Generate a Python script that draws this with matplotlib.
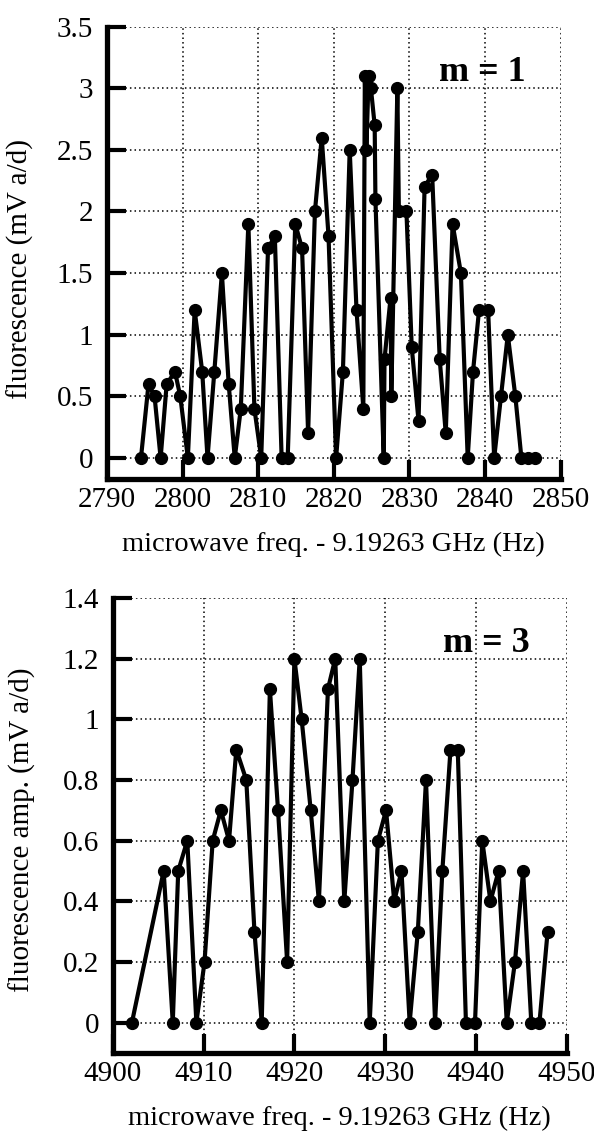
import matplotlib
matplotlib.use("Agg")
import matplotlib.pyplot as plt

plt.rcParams['font.family'] = ['Liberation Serif', 'DejaVu Serif']

# m = 1 scan
freq_m1 = [2794.5, 2795.5, 2796.3, 2797.1, 2797.9, 2799.0, 2799.7, 2800.7, 2801.6, 2802.6,
           2803.3, 2804.2, 2805.2, 2806.1, 2806.9, 2807.7, 2808.7, 2809.5, 2810.4, 2811.3,
           2812.2, 2813.1, 2813.9, 2814.9, 2815.8, 2816.6, 2817.5, 2818.4, 2819.3, 2820.3,
           2821.2, 2822.1, 2823.0, 2823.9, 2824.1, 2824.3, 2824.6, 2824.9, 2825.4, 2825.5,
           2826.6, 2826.7, 2827.5, 2827.6, 2828.4, 2828.6, 2829.6, 2830.3, 2831.2, 2832.0,
           2833.0, 2834.0, 2834.8, 2835.7, 2836.8, 2837.7, 2838.4, 2839.2, 2840.4, 2841.2,
           2842.1, 2843.0, 2844.0, 2844.8, 2845.7, 2846.6]
fluo_m1 = [0, 0.6, 0.5, 0, 0.6, 0.7, 0.5, 0, 1.2, 0.7,
           0, 0.7, 1.5, 0.6, 0, 0.4, 1.9, 0.4, 0, 1.7,
           1.8, 0, 0, 1.9, 1.7, 0.2, 2.0, 2.6, 1.8, 0,
           0.7, 2.5, 1.2, 0.4, 3.1, 2.5, 3.1, 3.0, 2.7, 2.1,
           0, 0.8, 1.3, 0.5, 3.0, 2.0, 2.0, 0.9, 0.3, 2.2,
           2.3, 0.8, 0.2, 1.9, 1.5, 0, 0.7, 1.2, 1.2, 0,
           0.5, 1.0, 0.5, 0, 0, 0]

# m = 3 scan
freq_m3 = [4902.1, 4905.6, 4906.6, 4907.2, 4908.2, 4909.2, 4910.1, 4911.0, 4911.9, 4912.8,
           4913.6, 4914.7, 4915.6, 4916.4, 4917.3, 4918.2, 4919.2, 4920.0, 4920.8, 4921.8,
           4922.7, 4923.7, 4924.5, 4925.5, 4926.4, 4927.2, 4928.3, 4929.2, 4930.1, 4931.0,
           4931.8, 4932.7, 4933.6, 4934.5, 4935.5, 4936.3, 4937.2, 4938.0, 4938.9, 4939.9,
           4940.7, 4941.6, 4942.5, 4943.4, 4944.3, 4945.2, 4946.1, 4947.0, 4947.9]
fluo_m3 = [0, 0.5, 0, 0.5, 0.6, 0, 0.2, 0.6, 0.7, 0.6,
           0.9, 0.8, 0.3, 0, 1.1, 0.7, 0.2, 1.2, 1.0, 0.7,
           0.4, 1.1, 1.2, 0.4, 0.8, 1.2, 0, 0.6, 0.7, 0.4,
           0.5, 0, 0.3, 0.8, 0, 0.5, 0.9, 0.9, 0, 0,
           0.6, 0.4, 0.5, 0, 0.2, 0.5, 0, 0, 0.3]

xticks_m1 = [2790, 2800, 2810, 2820, 2830, 2840, 2850]
yticks_m1 = [0, 0.5, 1, 1.5, 2, 2.5, 3, 3.5]
ylabels_m1 = ["0", "0.5", "1", "1.5", "2", "2.5", "3", "3.5"]
xticks_m3 = [4900, 4910, 4920, 4930, 4940, 4950]
yticks_m3 = [0, 0.2, 0.4, 0.6, 0.8, 1.0, 1.2, 1.4]
ylabels_m3 = ["0", "0.2", "0.4", "0.6", "0.8", "1", "1.2", "1.4"]

xlabel = "microwave freq. - 9.19263 GHz (Hz)"

fig = plt.figure(figsize=(5.94, 11.31), dpi=100)
ax1 = fig.add_axes([0.180, 0.5765, 0.764, 0.400])
ax2 = fig.add_axes([0.190, 0.069, 0.764, 0.4023])


def style(ax, xs, ys, xt, yt, ylab, xlim, ylim, ytext, ylab_xy, tag, tagpos):
    ax.plot(xs, ys, color="black", lw=3.0, marker="o",
            markersize=8.5, clip_on=False, zorder=3)
    ax.set_xlim(*xlim)
    ax.set_ylim(*ylim)
    ax.set_xticks(xt)
    ax.set_xticklabels([str(v) for v in xt])
    ax.set_yticks(yt)
    ax.set_yticklabels(ylab)
    ax.grid(True, color="black", linestyle=(0, (1, 2)), linewidth=1.1)
    for s in ["top", "right"]:
        ax.spines[s].set_visible(False)
    for s in ["left", "bottom"]:
        ax.spines[s].set_linewidth(3.8)
    ax.tick_params(axis="both", direction="in", length=14, width=3.0,
                   labelsize=21, color="black")
    ax.tick_params(axis="y", pad=10)
    ax.tick_params(axis="x", pad=6)
    ax.set_xlabel(xlabel, fontsize=20.5, labelpad=13)
    ax.set_ylabel(ytext, fontsize=21)
    ax.yaxis.set_label_coords(*ylab_xy)
    ax.text(tagpos[0], tagpos[1], tag, transform=ax.transAxes, fontsize=26,
            fontweight="bold", ha="center", va="center")


style(ax1, freq_m1, fluo_m1, xticks_m1, yticks_m1, ylabels_m1, (2790, 2850), (-0.17, 3.5),
      "fluorescence (mV a/d)", (-0.16, 0.465), "m = 1", (0.828, 0.898))
style(ax2, freq_m3, fluo_m3, xticks_m3, yticks_m3, ylabels_m3, (4900, 4950), (-0.1, 1.4),
      "fluorescence amp. (mV a/d)", (-0.17, 0.49), "m = 3", (0.822, 0.901))

fig.savefig("out.png", dpi=100)
